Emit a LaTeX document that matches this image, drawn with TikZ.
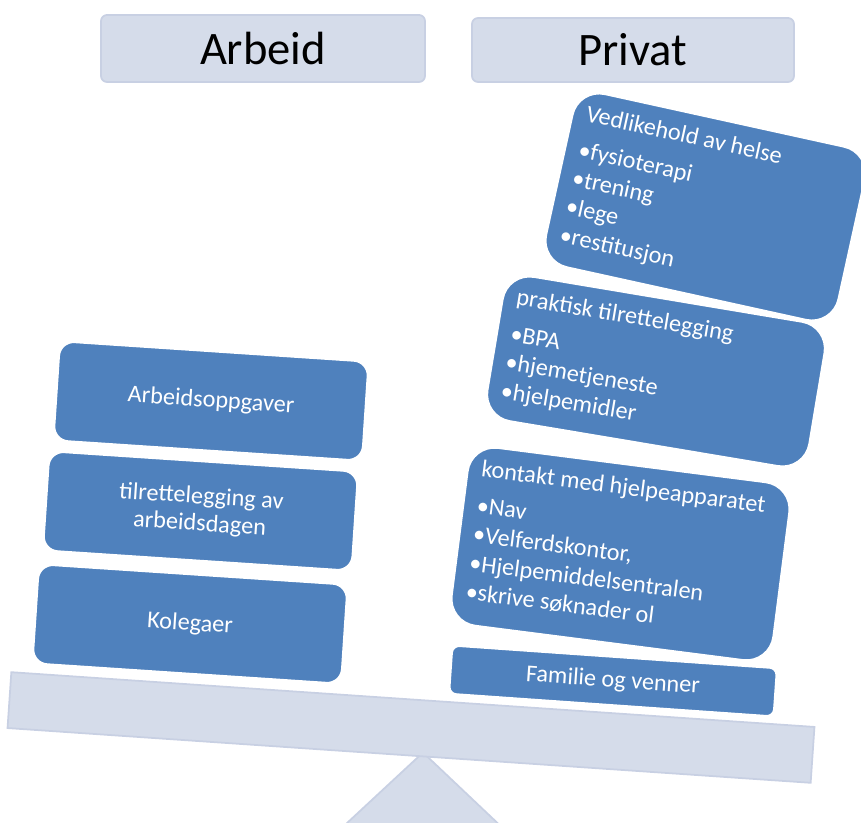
\documentclass[tikz,border=0pt]{standalone}
\usepackage{fontspec}
\setmainfont{Carlito}
\definecolor{loadblue}{HTML}{4F81BD}
\definecolor{beamfill}{HTML}{D5DCEA}
\definecolor{beamline}{HTML}{C8D0E3}
\begin{document}
\begin{tikzpicture}[
    beam/.style={draw=beamline, fill=beamfill, line width=1pt},
    topic/.style={beam, rounded corners=1.2mm, inner sep=0pt, font=\fontsize{26.5}{30}\selectfont},
    load/.style={fill=loadblue, draw=white, line width=1.5pt, text=white, inner sep=0pt},
    work/.style={load, rounded corners=3mm, minimum width=6.2cm, minimum height=2cm, rotate=-3.8,
      align=center, font=\fontsize{13.8}{15.5}\selectfont},
    life/.style={load, rounded corners=5.5mm},
    note/.style={text=white, anchor=north west, inner xsep=3mm, inner ysep=3mm, align=left,
      font=\fontsize{13.8}{16.5}\selectfont}
  ]
  \clip (0,0) rectangle (17.22,-16.46);

  % fulcrum and lever
  \draw[beam] (8.46,-15.05) -- (6.36,-17.0) -- (10.52,-17.0) -- cycle;
  \node[beam, rotate=-3.9, minimum width=16.1cm, minimum height=1.12cm, inner sep=0pt] (lever) at (8.22,-14.55) {};

  % headings
  \node[topic, minimum width=6.48cm, minimum height=1.34cm] (arbeid) at (5.26,-0.97) {Arbeid};
  \node[topic, minimum width=6.44cm, minimum height=1.28cm] (privat) at (12.66,-1.0) {Privat};

  % work side
  \node[work] (oppgaver) at (4.22,-8.02) {Arbeidsoppgaver};
  \node[work] (dagen) at (4.01,-10.22) {tilrettelegging av\\arbeidsdagen};
  \node[work] (kolegaer) at (3.80,-12.48) {Kolegaer};

  % private side
  \node[life, minimum width=6.0cm, minimum height=3.56cm, rotate=-12.4] (helse) at (14.11,-4.14) {};
  \node[note, rotate=-12.4] (helsetekst) at (helse.north west)
    {Vedlikehold av helse\\[1.6mm]•fysioterapi\\•trening\\•lege\\•restitusjon};
  \node[life, minimum width=6.54cm, minimum height=2.94cm, rotate=-9.5] (praktisk) at (13.12,-7.43) {};
  \node[note, rotate=-9.5] (praktisktekst) at (praktisk.north west)
    {praktisk tilrettelegging\\[1.6mm]•BPA\\•hjemetjeneste\\•hjelpemidler};
  \node[life, minimum width=6.5cm, minimum height=3.6cm, rotate=-7.3] (kontakt) at (12.41,-11.08) {};
  \node[note, rotate=-7.3] (kontakttekst) at (kontakt.north west)
    {kontakt med hjelpeapparatet\\[1.6mm]•Nav\\•Velferdskontor,\\•Hjelpemiddelsentralen\\•skrive søknader ol};
  \node[load, rounded corners=1.5mm, minimum width=6.52cm, minimum height=0.98cm, rotate=-4,
    font=\fontsize{13.8}{16}\selectfont] (familie) at (12.26,-13.62) {Familie og venner};
\end{tikzpicture}
\end{document}
